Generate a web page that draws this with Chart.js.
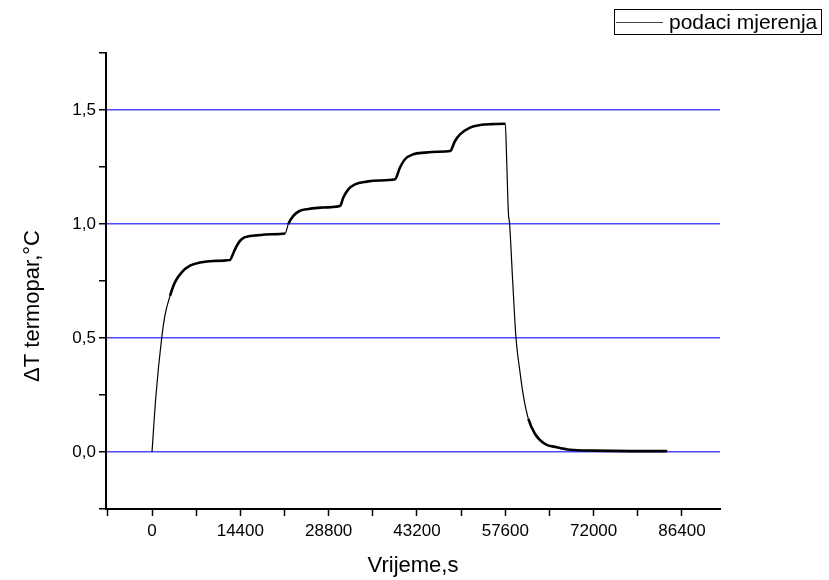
<!DOCTYPE html>
<html>
<head>
<meta charset="utf-8">
<script src="https://cdn.jsdelivr.net/npm/chart.js@4.4.0/dist/chart.umd.min.js"></script>
<style>
  html, body { margin: 0; padding: 0; background: #fff; }
  #wrap { width: 829px; height: 580px; position: relative; }
</style>
</head>
<body>
<div id="wrap"><canvas id="chart"></canvas></div>
<script>
const timeS = [
  0, 650, 1580, 2120, 2940, 3750, 4840, 6200, 7830, 10000, 12720,
  13100, 13530, 14340, 15000, 15440, 17000, 19500, 21700,
  22220, 23040, 24130, 25500, 27500, 30650,
  31190, 32000, 33090, 35000, 37000, 39620,
  40430, 41250, 42600, 44500, 46500, 48600,
  49400, 50220, 51850, 53500, 55500, 57600,
  57800, 58100, 58300, 58800, 59340, 60000, 60540, 61360, 62450,
  64080, 66000, 68160, 72000, 78000, 84000
];
const deltaT = [
  0, 0.25, 0.50, 0.60, 0.685, 0.745, 0.788, 0.817, 0.831, 0.838, 0.842,
  0.862, 0.889, 0.926, 0.940, 0.944, 0.950, 0.955, 0.958,
  1.000, 1.036, 1.058, 1.066, 1.072, 1.079,
  1.116, 1.152, 1.174, 1.186, 1.191, 1.196,
  1.248, 1.284, 1.306, 1.313, 1.317, 1.320,
  1.364, 1.393, 1.423, 1.434, 1.438, 1.440,
  1.30, 1.05, 1.00, 0.75, 0.50, 0.349, 0.247, 0.145, 0.079,
  0.035, 0.021, 0.010, 0.006, 0.004, 0.004
];
const seriesLabel = "podaci mjerenja";
const xLabels = [0, 14400, 28800, 43200, 57600, 72000, 86400];
const xMinor = [-7200, 7200, 21600, 36000, 50400, 64800, 79200];
const yLabels = [0, 0.5, 1.0, 1.5];

const FONT = "'Liberation Sans', Arial, sans-serif";

const near = (list, v, eps) => list.find(l => Math.abs(l - v) < eps);

// legend box + rotated y title
const extras = {
  id: "extras",
  afterDraw(chart) {
    const ctx = chart.ctx;
    ctx.save();
    ctx.strokeStyle = "#000";
    ctx.lineWidth = 1;
    ctx.strokeRect(614.5, 9.5, 207, 25);
    ctx.strokeStyle = "#444";
    ctx.beginPath();
    ctx.moveTo(616, 22.5);
    ctx.lineTo(663, 22.5);
    ctx.stroke();
    ctx.fillStyle = "#000";
    ctx.font = "21px " + FONT;
    ctx.textBaseline = "middle";
    ctx.textAlign = "left";
    ctx.fillText(chart.data.datasets[0].label, 669, 23);

    ctx.translate(33, 306);
    ctx.rotate(-Math.PI / 2);
    ctx.textAlign = "center";
    ctx.font = "22px " + FONT;
    ctx.fillText("\u0394T termopar,\u00B0C", 0, 0);
    ctx.restore();
  }
};

const points = timeS.map((t, i) => ({ x: t, y: deltaT[i] }));

new Chart(document.getElementById("chart"), {
  type: "line",
  data: {
    datasets: [{
      label: seriesLabel,
      data: points,
      borderColor: "#000",
      borderWidth: 2.6,
      pointRadius: 0,
      fill: false,
      cubicInterpolationMode: "monotone",
      segment: {
        borderWidth: c => Math.abs(c.p1.y - c.p0.y) > 3 * Math.abs(c.p1.x - c.p0.x) ? 1.2 : 2.6
      }
    }]
  },
  options: {
    responsive: true,
    maintainAspectRatio: false,
    animation: false,
    layout: { padding: { left: 0, right: 109, top: 53, bottom: 0 } },
    plugins: { legend: { display: false }, tooltip: { enabled: false } },
    scales: {
      x: {
        type: "linear",
        min: -7500,
        max: 92600,
        afterBuildTicks: s => {
          s.ticks = xMinor.concat(xLabels).sort((a, b) => a - b).map(v => ({ value: v }));
        },
        afterFit: s => { s.height = 71; },
        border: { color: "#000", width: 2 },
        grid: {
          drawOnChartArea: false,
          tickLength: 7,
          tickColor: "#000",
          tickWidth: 1.5
        },
        ticks: {
          maxRotation: 0,
          autoSkip: false,
          padding: 5,
          color: "#000",
          font: { family: FONT, size: 17 },
          callback: v => {
            const m = near(xLabels, v, 1);
            return m === undefined ? "" : String(m);
          }
        },
        title: {
          display: true,
          text: "Vrijeme,s",
          color: "#000",
          font: { family: FONT, size: 22 },
          padding: { top: 0, bottom: 1 }
        }
      },
      y: {
        min: -0.25,
        max: 1.75,
        afterFit: s => { s.width = 106; },
        border: { color: "#000", width: 2 },
        grid: {
          color: c => near(yLabels, c.tick.value, 1e-6) !== undefined ? "#4a4aff" : "rgba(0,0,0,0)",
          lineWidth: 1.5,
          tickColor: "#000",
          tickWidth: 1.5,
          tickLength: 7
        },
        ticks: {
          stepSize: 0.25,
          autoSkip: false,
          padding: 3,
          color: "#000",
          font: { family: FONT, size: 17 },
          callback: v => {
            const m = near(yLabels, v, 1e-6);
            return m === undefined ? "" : m.toFixed(1).replace(".", ",");
          }
        }
      }
    }
  },
  plugins: [extras]
});
</script>
</body>
</html>
